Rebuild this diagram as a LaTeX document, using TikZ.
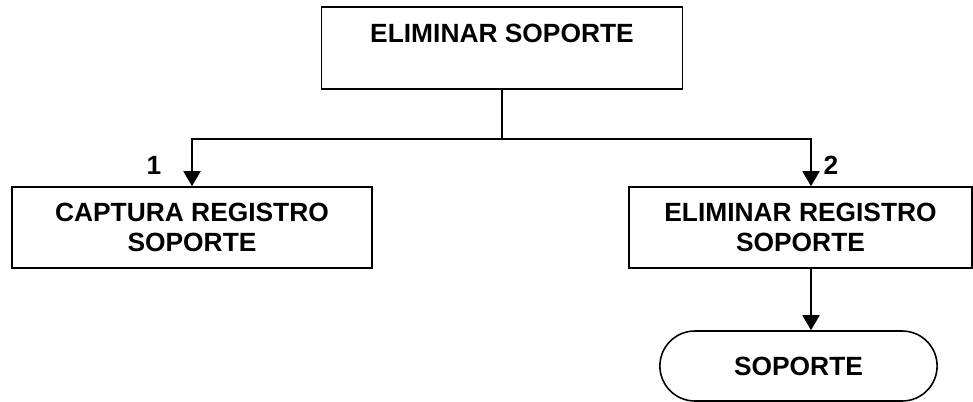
\documentclass[tikz,border=0pt]{standalone}
\usepackage{fontspec}
\setmainfont{Liberation Sans}
\usetikzlibrary{arrows.meta,positioning,calc,shapes.misc}

\begin{document}
\begin{tikzpicture}[x=0.02cm,y=-0.02cm,>={Triangle[length=0.3cm,width=0.34cm]},
  font=\fontsize{15}{17}\selectfont\bfseries,
  box/.style={draw,line width=0.9pt,inner sep=0pt,align=center},
  link/.style={line width=1.1pt}]
\useasboundingbox (0,0) rectangle (973,402);
\node[box,minimum width=7.22cm,text height=0.7cm,text depth=0.94cm] (elim) at (502,48) {ELIMINAR SOPORTE};
\node[box,minimum width=7.2cm,minimum height=1.62cm] (captura) at (192,227.5) {CAPTURA REGISTRO\\SOPORTE};
\node[box,minimum width=6.86cm,minimum height=1.62cm] (eliminarreg) at (800.5,227.5) {ELIMINAR REGISTRO\\SOPORTE};
\node[draw,line width=0.9pt,rounded rectangle,minimum width=5.78cm,minimum height=1.4cm] (soporte) at (798.5,366) {SOPORTE};
\coordinate (split) at (502,139);
\draw[link] (elim.south) -- (split);
\draw[link,->] (split) -| (captura.north);
\draw[link,->] (split) -| ([xshift=0.21cm]eliminarreg.north);
\draw[link,->] ([xshift=0.21cm]eliminarreg.south) -- ([xshift=0.25cm]soporte.north);
\node (uno) at (154,165) {1};
\node (dos) at (831,165) {2};
\end{tikzpicture}
\end{document}
